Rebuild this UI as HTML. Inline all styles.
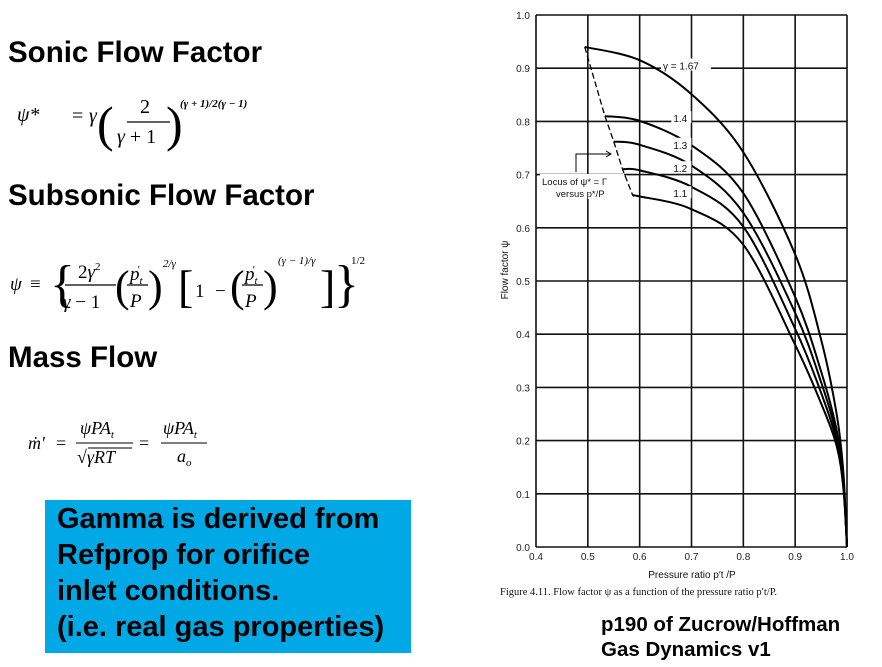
<!DOCTYPE html>
<html><head><meta charset="utf-8"><style>
body{margin:0;background:#fff;}
#page{position:relative;width:882px;height:667px;overflow:hidden;background:#fff;font-family:"Liberation Sans",sans-serif;}
.h{position:absolute;left:8px;font-weight:bold;font-size:29.5px;color:#000;margin:0;white-space:nowrap;}
#note{position:absolute;left:45px;top:500px;width:366px;height:153px;background:#00a9e6;}
#note div{position:absolute;left:12px;font-weight:bold;font-size:29px;color:#000;white-space:nowrap;}
.cite{position:absolute;left:601px;font-weight:bold;font-size:20.5px;color:#000;white-space:nowrap;}
svg{position:absolute;left:0;top:0;}
</style></head><body>
<div id="page">
<div class="h" style="top:36px">Sonic Flow Factor</div>
<div class="h" style="top:179px">Subsonic Flow Factor</div>
<div class="h" style="top:341px">Mass Flow</div>
<div id="note">
<div style="top:3px">Gamma is derived from</div>
<div style="top:39px">Refprop for orifice</div>
<div style="top:75px">inlet conditions.</div>
<div style="top:111px">(i.e. real gas properties)</div>
</div>
<div class="cite" style="top:613px">p190 of Zucrow/Hoffman</div>
<div class="cite" style="top:638px">Gas Dynamics v1</div>

<svg width="882" height="667" font-family="Liberation Serif, serif">
 <g font-style="italic" font-size="20">
  <text x="17" y="121">ψ*</text>
  <text x="72" y="122" font-style="normal">=</text>
  <text x="89" y="122">γ</text>
  <text x="97" y="141" font-size="50" font-style="normal">(</text>
  <text x="140" y="113" font-style="normal">2</text>
  <line x1="127" y1="122" x2="170" y2="122" stroke="#000" stroke-width="1.2"/>
  <text x="117" y="143">γ <tspan font-style="normal">+ 1</tspan></text>
  <text x="166" y="141" font-size="50" font-style="normal">)</text>
  <text x="180" y="107" font-size="11" font-weight="bold">(γ + 1)/2(γ − 1)</text>
 </g>
 <g font-style="italic" font-size="19">
  <text x="10" y="290">ψ</text>
  <text x="30" y="290" font-style="normal">≡</text>
  <text x="50" y="301" font-size="52" font-style="normal">{</text>
  <text x="78" y="278" font-style="normal">2<tspan font-style="italic">γ</tspan><tspan font-size="11" dy="-8">2</tspan></text>
  <line x1="65" y1="285" x2="116" y2="285" stroke="#000" stroke-width="1.2"/>
  <text x="63" y="308">γ <tspan font-style="normal">− 1</tspan></text>
  <text x="115" y="301" font-size="44" font-style="normal">(</text>
  <text x="130" y="280">p<tspan font-size="11" dy="4">t</tspan></text>
  <text x="137" y="273" font-size="11">′</text>
  <line x1="127" y1="285" x2="148" y2="285" stroke="#000" stroke-width="1.2"/>
  <text x="130" y="307">P</text>
  <text x="148" y="301" font-size="44" font-style="normal">)</text>
  <text x="163" y="267" font-size="11">2/γ</text>
  <text x="178" y="302" font-size="46" font-style="normal">[</text>
  <text x="195" y="297" font-style="normal">1</text>
  <text x="215" y="297" font-style="normal">−</text>
  <text x="230" y="301" font-size="44" font-style="normal">(</text>
  <text x="245" y="280">p<tspan font-size="11" dy="4">t</tspan></text>
  <text x="252" y="273" font-size="11">′</text>
  <line x1="242" y1="285" x2="263" y2="285" stroke="#000" stroke-width="1.2"/>
  <text x="245" y="307">P</text>
  <text x="263" y="301" font-size="44" font-style="normal">)</text>
  <text x="278" y="264" font-size="11">(γ − 1)/γ</text>
  <text x="320" y="302" font-size="46" font-style="normal">]</text>
  <text x="334" y="301" font-size="52" font-style="normal">}</text>
  <text x="351" y="264" font-size="11" font-style="normal">1/2</text>
 </g>
 <g font-style="italic" font-size="18">
  <text x="28" y="449">ṁ′</text>
  <text x="56" y="449" font-style="normal">=</text>
  <text x="80" y="434">ψPA<tspan font-size="11" dy="4">t</tspan></text>
  <line x1="76" y1="443" x2="133" y2="443" stroke="#000" stroke-width="1.1"/>
  <text x="77" y="463" font-style="normal">√<tspan font-style="italic">γRT</tspan></text>
  <line x1="88" y1="448" x2="132" y2="448" stroke="#000" stroke-width="1"/>
  <text x="139" y="449" font-style="normal">=</text>
  <text x="163" y="434">ψPA<tspan font-size="11" dy="4">t</tspan></text>
  <line x1="161" y1="443" x2="207" y2="443" stroke="#000" stroke-width="1.1"/>
  <text x="177" y="462">a<tspan font-size="11" dy="4">o</tspan></text>
 </g>
</svg>

<svg id="chart" width="882" height="667"></svg>
</div>
<script>
const xTicks=[0.4,0.5,0.6,0.7,0.8,0.9,1.0];
const xTickLabels=["0.4","0.5","0.6","0.7","0.8","0.9","1.0"];
const yTicks=[0,0.1,0.2,0.3,0.4,0.5,0.6,0.7,0.8,0.9,1.0];
const yTickLabels=["0.0","0.1","0.2","0.3","0.4","0.5","0.6","0.7","0.8","0.9","1.0"];
const gammas=["1.67","1.4","1.3","1.2","1.1"];
const gammaLabels=["γ = 1.67","1.4","1.3","1.2","1.1"];
const startX=[0.494,0.533,0.55,0.567,0.587];
const startY=[0.94,0.81,0.762,0.71,0.66];
const ratios=[0.6,0.7,0.8,0.9,0.95,0.98,0.993,1.0];
const psi167=[0.915,0.851,0.742,0.55,0.39,0.25,0.14,0];
const psi14=[0.801,0.755,0.665,0.47,0.33,0.22,0.125,0];
const psi13=[0.756,0.717,0.628,0.44,0.31,0.21,0.12,0];
const psi12=[0.708,0.677,0.602,0.41,0.29,0.20,0.115,0];
const psi11=[0.659,0.635,0.568,0.38,0.27,0.19,0.11,0];
const series=[psi167,psi14,psi13,psi12,psi11];

const X0=536,X1=847,Y0=547,Y1=15;
function sx(v){return X0+(v-0.4)/0.6*(X1-X0);}
function sy(v){return Y0-v*(Y0-Y1);}
const NS="http://www.w3.org/2000/svg";
const svg=document.getElementById('chart');
function el(t,a,p){const e=document.createElementNS(NS,t);for(const k in a)e.setAttribute(k,a[k]);(p||svg).appendChild(e);return e;}

const grid=el('g',{});


xTicks.forEach((v,i)=>{
 const l=el('line',{x1:sx(v),x2:sx(v),y1:Y1,y2:Y0,stroke:'#111','stroke-width':1.6},grid);
 
 
 const t=el('text',{x:sx(v),y:Y0+13,'text-anchor':'middle','font-size':10,'font-family':'Liberation Sans, sans-serif',fill:'#222'});
 t.textContent=xTickLabels[i];
 
 
});
yTicks.forEach((v,i)=>{
 const l=el('line',{x1:X0,x2:X1,y1:sy(v),y2:sy(v),stroke:'#111','stroke-width':1.6},grid);
 
 
 const t=el('text',{x:X0-6,y:sy(v)+4,'text-anchor':'end','font-size':10,'font-family':'Liberation Sans, sans-serif',fill:'#222'});
 t.textContent=yTickLabels[i];
 
 
});

function smooth(pts){
 let d='M'+pts[0][0]+','+pts[0][1];
 for(let i=0;i<pts.length-1;i++){
  const p0=pts[Math.max(0,i-1)],p1=pts[i],p2=pts[i+1],p3=pts[Math.min(pts.length-1,i+2)];
  const c1=[p1[0]+(p2[0]-p0[0])/6,p1[1]+(p2[1]-p0[1])/6];
  const c2=[p2[0]-(p3[0]-p1[0])/6,p2[1]-(p3[1]-p1[1])/6];
  d+=' C'+c1[0]+','+c1[1]+' '+c2[0]+','+c2[1]+' '+p2[0]+','+p2[1];
 }
 return d;
}
const labelY=[0.905,0.806,0.756,0.712,0.665];
const labelX=[0.645,0.665,0.665,0.665,0.665];
series.forEach((vals,k)=>{
 const pts=[[sx(startX[k]),sy(startY[k])]];
 ratios.forEach((r,i)=>pts.push([sx(r),sy(vals[i])]));
 const p=el('path',{d:smooth(pts),fill:'none',stroke:'#000','stroke-width':2});
 
 
});
gammaLabels.forEach((s,k)=>{
 const w=k===0?50:20;
 el('rect',{x:sx(labelX[k])-2,y:sy(labelY[k])-7,width:w,height:12,fill:'#fff'});
 const t=el('text',{x:sx(labelX[k]),y:sy(labelY[k])+4,'font-size':10,'font-family':'Liberation Sans, sans-serif',fill:'#111'});
 t.textContent=s;
 
 
});
let ld='';
startX.forEach((x,k)=>{ld+=(k?'L':'M')+sx(x)+','+sy(startY[k]);});
const locus=el('path',{d:ld,fill:'none',stroke:'#000','stroke-width':1.3,'stroke-dasharray':'6,3'});


el('rect',{x:540,y:174,width:84,height:25,fill:'#fff'});
const lt1=el('text',{x:542,y:185,'font-size':9.5,'font-family':'Liberation Sans, sans-serif',fill:'#111'});
lt1.textContent='Locus of ψ* = Γ';


const lt2=el('text',{x:556,y:197,'font-size':9.5,'font-family':'Liberation Sans, sans-serif',fill:'#111'});
lt2.textContent='versus p*/P';


const arr=el('path',{d:'M576,172 L576,154 L611,154 M606,151 L611,154 L606,157',fill:'none',stroke:'#000','stroke-width':1});


const xt=el('text',{x:692,y:578,'text-anchor':'middle','font-size':10,'font-family':'Liberation Sans, sans-serif',fill:'#111'});
xt.textContent="Pressure ratio p′t /P";


const yt=el('text',{x:0,y:0,'text-anchor':'middle','font-size':10,'font-family':'Liberation Sans, sans-serif',fill:'#111',transform:'translate(508,270) rotate(-90)'});
yt.textContent='Flow factor ψ';


const cap=el('text',{x:500,y:595,'font-size':10.5,'font-family':'Liberation Serif, serif',fill:'#111'});
cap.textContent='Figure 4.11.    Flow factor ψ as a function of the pressure ratio p′t/P.';


</script>
</body></html>
